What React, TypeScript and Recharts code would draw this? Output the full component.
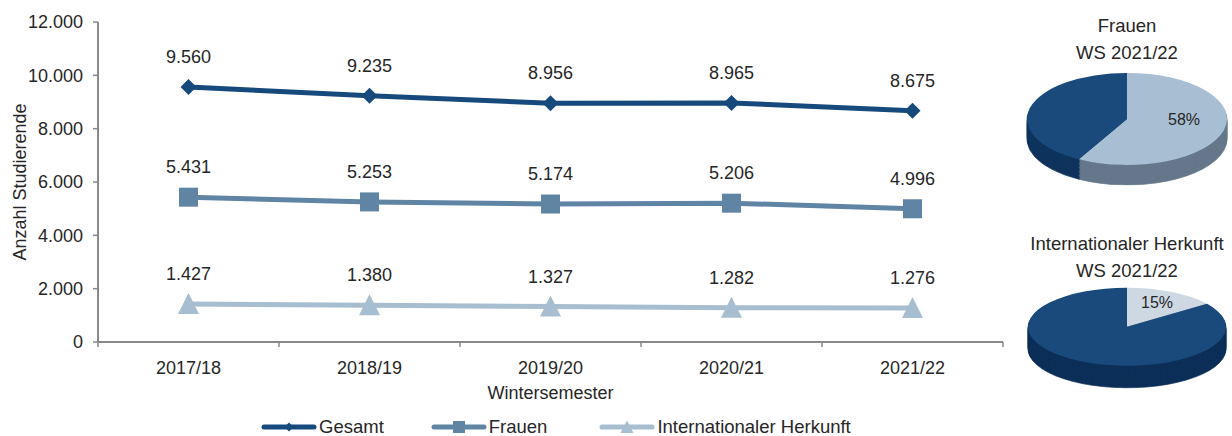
import React from "react";
import { LineChart, Line, XAxis, YAxis, Legend, LabelList, PieChart, Pie, Cell } from "recharts";

const categories = ["2017/18", "2018/19", "2019/20", "2020/21", "2021/22"];
const gesamt = [9560, 9235, 8956, 8965, 8675];
const frauen = [5431, 5253, 5174, 5206, 4996];
const international = [1427, 1380, 1327, 1282, 1276];
const yTicks = [0, 2000, 4000, 6000, 8000, 10000, 12000];

// pie shares WS 2021/22 (highlighted slice first, clockwise from 12 o'clock)
const frauenShare = [58, 42];
const internationalShare = [15, 85];

const DARK = "#174a7c";
const MID = "#6085a4";
const LIGHT = "#a7bdd0";
const AXIS = "#898989";
const TEXT = "#262626";
const FONT = "'Liberation Sans', Arial, sans-serif";
const HALF_BAND = 90.5;

const fmt = (v: any) => String(v).replace(/\B(?=(\d{3})+(?!\d))/g, ".");

const rows = categories.map((year, i) => ({
  year,
  gesamt: gesamt[i],
  frauen: frauen[i],
  international: international[i],
}));

const diamondDot = (p: any) => (
  <polygon
    key={`d${p.index}`}
    points={`${p.cx},${p.cy - 8} ${p.cx + 8},${p.cy} ${p.cx},${p.cy + 8} ${p.cx - 8},${p.cy}`}
    fill={DARK}
  />
);
const squareDot = (p: any) => <rect key={`s${p.index}`} x={p.cx - 9.5} y={p.cy - 9.5} width={19} height={19} fill={MID} />;
const triangleDot = (p: any) => (
  <polygon
    key={`t${p.index}`}
    points={`${p.cx},${p.cy - 11} ${p.cx + 10.5},${p.cy + 10} ${p.cx - 10.5},${p.cy + 10}`}
    fill={LIGHT}
  />
);

// category label in the middle, tick marks on the band edges
const categoryTick = (p: any) => {
  const { x, y, payload, index } = p;
  return (
    <g key={`tick${index}`}>
      <line x1={x - HALF_BAND} y1={y} x2={x - HALF_BAND} y2={y + 5} stroke={AXIS} strokeWidth={1.5} />
      {index === categories.length - 1 && (
        <line x1={x + HALF_BAND} y1={y} x2={x + HALF_BAND} y2={y + 5} stroke={AXIS} strokeWidth={1.5} />
      )}
      <text x={x} y={y + 32} textAnchor="middle" fill={TEXT} fontSize={18}>
        {payload.value}
      </text>
    </g>
  );
};

function LegendIcon({ color, kind }: { color: string; kind: string }) {
  return (
    <svg width={56} height={14} style={{ display: "block" }}>
      <line x1={3} y1={7} x2={53} y2={7} stroke={color} strokeWidth={5} strokeLinecap="round" />
      {kind === "diamond" && <polygon points="28,2.5 32.5,7 28,11.5 23.5,7" fill={color} />}
      {kind === "square" && <rect x={22} y={1} width={12} height={12} fill={color} />}
      {kind === "triangle" && <polygon points="28,0.5 34.5,13 21.5,13" fill={color} />}
    </svg>
  );
}

function renderLegend() {
  const items = [
    { label: "Gesamt", color: DARK, kind: "diamond", gap: 47 },
    { label: "Frauen", color: MID, kind: "square", gap: 52 },
    { label: "Internationaler Herkunft", color: LIGHT, kind: "triangle", gap: 0 },
  ];
  return (
    <div style={{ height: 30, display: "flex", alignItems: "flex-end", paddingLeft: 261, paddingBottom: 0, boxSizing: "border-box" }}>
      {items.map((it) => (
        <div key={it.label} style={{ display: "flex", alignItems: "center", marginRight: it.gap, height: 20, marginBottom: -1 }}>
          <LegendIcon color={it.color} kind={it.kind} />
          <span style={{ fontSize: 18.5, color: TEXT, marginLeft: 2, lineHeight: "20px" }}>{it.label}</span>
        </div>
      ))}
    </div>
  );
}

interface PieProps {
  shares: number[];
  topColors: string[];
  sideColors: string[];
  cx: number;
  cy: number;
  rx: number;
  ry: number;
  depth: number;
}

function TiltedPie({ shares, topColors, sideColors, cx, cy, rx, ry, depth }: PieProps) {
  const k = ry / rx;
  const depthU = depth / k;
  const layers = Math.ceil(depthU / 3);
  const pad = 2;
  const W = 2 * rx + 2 * pad;
  const H = 2 * rx + depthU + 2 * pad;
  const data = shares.map((value, i) => ({ name: `s${i}`, value }));
  const c0 = rx + pad;
  return (
    <div
      style={{
        position: "absolute",
        left: cx - c0,
        top: cy - c0 * k,
        width: W,
        height: H,
        transform: `scaleY(${k})`,
        transformOrigin: "top left",
      }}
    >
      <PieChart width={W} height={H} margin={{ top: 0, right: 0, bottom: 0, left: 0 }}>
        {Array.from({ length: layers }, (_, j) => {
          const step = layers - j;
          return (
            <Pie
              key={`layer${step}`}
              data={data}
              dataKey="value"
              cx={c0}
              cy={c0 + (step * depthU) / layers}
              outerRadius={rx}
              startAngle={90}
              endAngle={-270}
              isAnimationActive={false}
              stroke="none"
            >
              {data.map((d, i) => (
                <Cell key={d.name} fill={sideColors[i]} stroke={sideColors[i]} />
              ))}
            </Pie>
          );
        })}
        <Pie
          data={data}
          dataKey="value"
          cx={c0}
          cy={c0}
          outerRadius={rx}
          startAngle={90}
          endAngle={-270}
          isAnimationActive={false}
          stroke="none"
        >
          {data.map((d, i) => (
            <Cell key={d.name} fill={topColors[i]} stroke="none" />
          ))}
        </Pie>
      </PieChart>
    </div>
  );
}

const titleStyle: React.CSSProperties = {
  position: "absolute",
  width: 240,
  left: 1127 - 120,
  textAlign: "center",
  fontSize: 18.5,
  lineHeight: "27px",
  color: TEXT,
};

export default function App() {
  return (
    <div style={{ position: "absolute", left: 0, top: 0, width: 1232, height: 436, background: "#fff", fontFamily: FONT, overflow: "hidden" }}>
      <LineChart width={1010} height={436} data={rows} margin={{ top: 22, right: 7, left: 0, bottom: 0 }}>
        <XAxis
          xAxisId="cat"
          dataKey="year"
          height={64}
          padding={{ left: HALF_BAND, right: HALF_BAND }}
          axisLine={{ stroke: AXIS, strokeWidth: 2 }}
          tickLine={false}
          tickSize={0}
          tickMargin={0}
          tick={categoryTick}
          label={{ value: "Wintersemester", position: "insideBottom", offset: 7, fill: TEXT, fontSize: 18 }}
        />
        <YAxis
          type="number"
          domain={[0, 12000]}
          ticks={yTicks}
          width={98}
          tickFormatter={fmt}
          tickSize={5}
          tickMargin={10}
          axisLine={{ stroke: AXIS, strokeWidth: 2 }}
          tickLine={{ stroke: AXIS, strokeWidth: 1.5 }}
          tick={{ fill: TEXT, fontSize: 18 }}
          label={{
            content: (props: any) => {
              const vb = props.viewBox || { y: 22, height: 320 };
              const y = vb.y + vb.height / 2;
              return (
                <text x={26} y={y} transform={`rotate(-90 26 ${y})`} textAnchor="middle" fill={TEXT} fontSize={18}>
                  Anzahl Studierende
                </text>
              );
            },
          }}
        />
        <Legend verticalAlign="bottom" content={renderLegend} wrapperStyle={{ left: 0, width: 1010 }} />
        <Line xAxisId="cat" dataKey="gesamt" stroke={DARK} strokeWidth={5} dot={diamondDot} activeDot={false} isAnimationActive={false}>
          <LabelList dataKey="gesamt" position="top" offset={24} formatter={fmt} fill={TEXT} fontSize={18} />
        </Line>
        <Line xAxisId="cat" dataKey="frauen" stroke={MID} strokeWidth={5} dot={squareDot} activeDot={false} isAnimationActive={false}>
          <LabelList dataKey="frauen" position="top" offset={24} formatter={fmt} fill={TEXT} fontSize={18} />
        </Line>
        <Line xAxisId="cat" dataKey="international" stroke={LIGHT} strokeWidth={5} dot={triangleDot} activeDot={false} isAnimationActive={false}>
          <LabelList dataKey="international" position="top" offset={24} formatter={fmt} fill={TEXT} fontSize={18} />
        </Line>
      </LineChart>

      <div style={{ ...titleStyle, top: 12 }}>
        Frauen
        <br />
        WS 2021/22
      </div>
      <TiltedPie
        shares={frauenShare}
        topColors={["#a8bed2", "#1a4a7c"]}
        sideColors={["#66788b", "#0f355e"]}
        cx={1127}
        cy={119}
        rx={100}
        ry={46}
        depth={20}
      />
      <div style={{ position: "absolute", left: 1168, top: 111, fontSize: 16, color: TEXT }}>58%</div>

      <div style={{ ...titleStyle, top: 230 }}>
        Internationaler Herkunft
        <br />
        WS 2021/22
      </div>
      <TiltedPie
        shares={internationalShare}
        topColors={["#cdd8e3", "#1a4a7c"]}
        sideColors={["#8e9cab", "#0d3059"]}
        cx={1127}
        cy={327}
        rx={99}
        ry={39}
        depth={22}
      />
      <div style={{ position: "absolute", left: 1141, top: 294, fontSize: 16, color: TEXT }}>15%</div>
    </div>
  );
}
